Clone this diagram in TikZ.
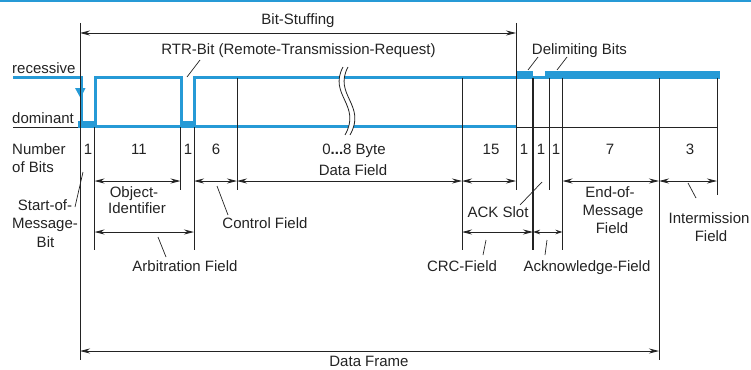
\documentclass[tikz,border=0pt]{standalone}
\usepackage{fontspec}
\setmainfont{Liberation Sans}
\usetikzlibrary{arrows.meta}
\definecolor{canblue}{RGB}{38,154,214}
\definecolor{txt}{RGB}{35,35,35}
\begin{document}
\begin{tikzpicture}[x=1pt,y=-1pt,
  lbl/.style={font=\fontsize{15}{17}\selectfont, text=txt, inner sep=0pt, anchor=base},
  lblw/.style={lbl, anchor=base west},
  dim/.style={{Stealth[length=10pt,width=5pt]}-{Stealth[length=10pt,width=5pt]}, line width=0.9pt, draw=txt},
  vline/.style={line width=0.9pt, draw=txt},
  leader/.style={line width=0.7pt, draw=txt},
  sig/.style={draw=canblue, line width=3pt},
  sigbar/.style={draw=canblue, line width=7.5pt, line cap=butt},
]
\useasboundingbox (0,0) rectangle (751,369);
\fill[canblue] (0,0) rectangle (751,2.5);

% columns and rows
\coordinate (cA) at (80,0);
\coordinate (cB) at (94.5,0);
\coordinate (cC) at (180.5,0);
\coordinate (cD) at (194,0);
\coordinate (cE) at (237,0);
\coordinate (cF) at (462,0);
\coordinate (cG) at (516,0);
\coordinate (cH) at (533,0);
\coordinate (cI) at (549,0);
\coordinate (cJ) at (562.5,0);
\coordinate (cK) at (659,0);
\coordinate (cL) at (717,0);
\coordinate (rTop) at (0,23);
\coordinate (rBS) at (0,33);
\coordinate (rRec) at (0,77.5);
\coordinate (rDom) at (0,127);
\coordinate (r1) at (0,181);
\coordinate (r1e) at (0,190);
\coordinate (r2) at (0,232);
\coordinate (r2e) at (0,250);
\coordinate (rDF) at (0,351);
\coordinate (rBot) at (0,360);

% black base line (dominant level)
\draw[vline] (13,127) -- (cA |- rDom);
\draw[vline] (cG |- rDom) -- (cL |- rDom);

% signal
\draw[sig] (13,77.5) -| (81,124);
\draw[sigbar] (78,124.5) -- (95.5,124.5);
\draw[sig] (95,125) |- (181,77.5) -- (181,125);
\draw[sigbar] (179.5,124.5) -- (195.5,124.5);
\draw[sig] (194.5,125) |- (516,77.5);
\draw[sig] (95,126) -- (516,126);
\fill[canblue] (75,88) -- (85.5,88) -- (80.5,98) -- cycle;
\draw[sigbar] (516,74.75) -- (533,74.75);
\draw[sig] (533,77) -- (545,77);
\draw[sigbar] (545,74.75) -- (720,74.75);

% break symbol
\fill[white] (343,67) .. controls (328,95) and (362,105) .. (345,135) -- (350,135) .. controls (367,105) and (333,95) .. (348,67) -- cycle;
\draw[line width=0.8pt, txt] (343,67) .. controls (328,95) and (362,105) .. (345,135);
\draw[line width=0.8pt, txt] (348,67) .. controls (333,95) and (367,105) .. (350,135);

% vertical lines
\draw[vline] (cA |- rTop) -- (cA |- rBot);
\draw[vline] (cB |- rDom) -- (cB |- r2e);
\draw[vline] (cC |- rDom) -- (cC |- r1e);
\draw[vline] (cD |- rDom) -- (cD |- r2e);
\draw[vline] (cE |- rRec) -- (cE |- r1e);
\draw[vline] (cF |- rRec) -- (cF |- r2e);
\draw[vline] (cG |- rTop) -- (cG |- r1e);
\draw[vline, line width=1.5pt] (cH |- rRec) -- (cH |- r2e);
\draw[vline] (cI |- rRec) -- (cI |- r1e);
\draw[vline] (cJ |- rRec) -- (cJ |- r2e);
\draw[vline] (cK |- rRec) -- (cK |- rBot);
\draw[vline] (cL |- rRec) -- (717,195);

% dimension arrows
\draw[dim] (cA |- rBS) -- (cG |- rBS);
\draw[dim] (cB |- r1) -- (cC |- r1);
\draw[dim] (cD |- r1) -- (cE |- r1);
\draw[dim] (cE |- r1) -- (cF |- r1);
\draw[dim] (cF |- r1) -- (cG |- r1);
\draw[dim] (cJ |- r1) -- (cK |- r1);
\draw[dim] (cK |- r1) -- (cL |- r1);
\draw[dim] (cB |- r2) -- (cD |- r2);
\draw[dim] (cF |- r2) -- (cH |- r2);
\draw[{Stealth[length=7pt,width=4.5pt]}-{Stealth[length=7pt,width=4.5pt]}, line width=0.9pt, draw=txt] (cH |- r2) -- (cJ |- r2);
\draw[dim] (cA |- rDF) -- (cK |- rDF);

% labels
\node[lbl] (bs) at (298,24.5) {Bit-Stuffing};
\node[lbl] (rtr) at (298.5,55) {RTR-Bit (Remote-Transmission-Request)};
\node[lbl] (delim) at (579.5,55) {Delimiting Bits};
\node[lblw] (rec) at (12,73) {recessive};
\node[lblw] (dom) at (12,123) {dominant};
\node[lblw] (nb1) at (12,154) {Number};
\node[lblw] (nb2) at (12,172) {of Bits};
\node[lbl] (n1) at (88,154) {1};
\node[lbl] (n2) at (139,154) {11};
\node[lbl] (n3) at (188,154) {1};
\node[lbl] (n4) at (216,154) {6};
\node[lbl] (n5) at (354,154) {0\textbf{...}8 Byte};
\node[lbl] (n6) at (491,154) {15};
\node[lbl] (n7) at (524,154) {1};
\node[lbl] (n8) at (541,154) {1};
\node[lbl] (n9) at (556,154) {1};
\node[lbl] (n10) at (610,154) {7};
\node[lbl] (n11) at (690,154) {3};
\node[lbl] (df) at (353,175) {Data Field};
\node[lbl] (oi1) at (134,197) {Object-};
\node[lbl] (oi2) at (137,213) {Identifier};
\node[lbl] (som1) at (45,210) {Start-of-};
\node[lbl] (som2) at (45,228) {Message-};
\node[lbl] (som3) at (45.5,247) {Bit};
\node[lbl] (cf) at (265,228) {Control Field};
\node[lbl] (af) at (185,271) {Arbitration Field};
\node[lbl] (ack) at (498,217) {ACK Slot};
\node[lbl] (crc) at (462,271) {CRC-Field};
\node[lbl] (ackf) at (587,271) {Acknowledge-Field};
\node[lbl] (eom1) at (610,197) {End-of-};
\node[lbl] (eom2) at (613,215) {Message};
\node[lbl] (eom3) at (612,233) {Field};
\node[lbl] (im1) at (709,223) {Intermission};
\node[lbl] (im2) at (711,241) {Field};
\node[lbl] (dfr) at (369,366) {Data Frame};

% leader lines
\draw[leader] (200,60) -- (187,77);
\draw[leader] (538,57) -- (528,70);
\draw[leader] (567,57) -- (557,70);
\draw[leader] (75,207) -- (83,172);
\draw[leader] (217,186) -- (228,215);
\draw[leader] (158,237) -- (166,257);
\draw[leader] (520,205) -- (542,182);
\draw[leader] (486,240) -- (483,255);
\draw[leader] (547,240) -- (545,255);
\draw[leader] (688,183) -- (696,198);
\end{tikzpicture}
\end{document}
